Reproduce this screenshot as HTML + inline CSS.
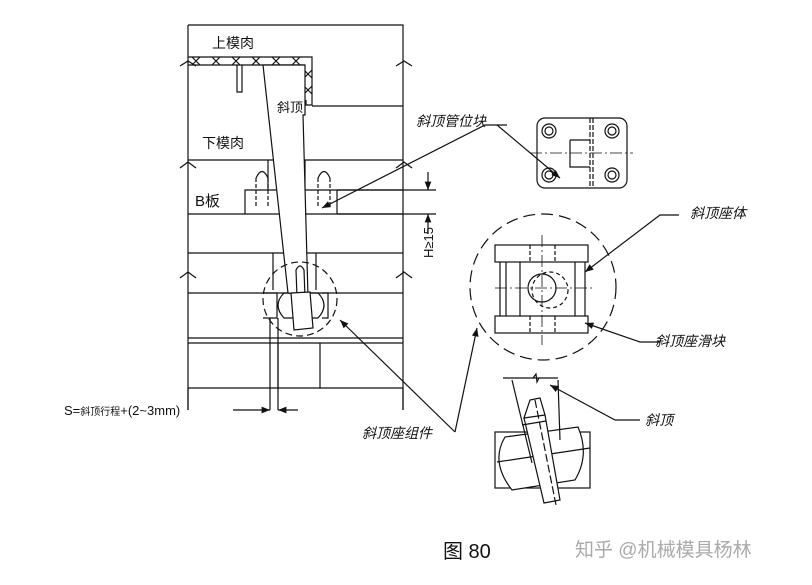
<!DOCTYPE html>
<html><head><meta charset="utf-8"><style>
body{margin:0;background:#fff;width:812px;height:580px;overflow:hidden}
text{font-family:"Liberation Sans","Noto Sans CJK SC",sans-serif;fill:#111}
</style></head><body>
<svg width="812" height="580" viewBox="0 0 812 580" xmlns="http://www.w3.org/2000/svg">
<defs><marker id="a" viewBox="0 0 10 10" refX="10" refY="5" markerWidth="9" markerHeight="7" orient="auto-start-reverse"><path d="M0,1 L10,5 L0,9z" fill="#111"/></marker></defs>
<g stroke="#111" stroke-width="1.2" fill="none">
<path d="M188,25 H403 V410 M188,25 V410"/>
<path d="M180,66 l8,-5 l8,5 M396,66 l8,-5 l8,5" />
<path d="M180,168 l8,-6 l8,6 M396,168 l8,-6 l8,6" />
<path d="M180,278 l8,-6 l8,6 M396,278 l8,-6 l8,6" />
<path d="M188,57 H312 V105 H306 V100 M188,65 H305"/>
<path d="M192,57 l8,8 M200,57 l-8,8 M212,57 l8,8 M220,57 l-8,8 M232,57 l8,8 M240,57 l-8,8 M252,57 l8,8 M260,57 l-8,8 M272,57 l8,8 M280,57 l-8,8 M292,57 l8,8 M300,57 l-8,8 M304,70 l8,8 M312,70 l-8,8 M304,86 l8,8 M312,86 l-8,8"/>
<path d="M237,65 V92 H242 V65"/>
<path d="M312,106 H403"/>
<path d="M188,160 H403"/>
<path d="M245,214 V190 H337 V214 M188,214 H403 M337,190 H403 M268,160 V190 M305,160 V190"/>
<path d="M256,178 V207 M268,178 V207 M318,178 V207 M330,178 V207" stroke-dasharray="4,2"/>
<path d="M256,178 Q262,165 268,178 M318,178 Q324,165 330,178"/>
<path d="M188,253 H403 M273,253 V290 M316,253 V290"/>
<path d="M188,293 H403 M188,338 H403 M188,343 H403 M188,388 H403 M278,343 V388 M320,343 V388"/>
<!-- detail in circle -->
<path d="M263,293 H277 V318 H263 M322,293 H328 V318 H322"/>
<path d="M284,293 Q272,305 284,318 H318 Q330,305 318,293Z"/>
<!-- lifter pin -->
<path d="M263,65 L305,65 L305,115 L303,115 L308,297 L288,293 Z" fill="#fff"/>
<path d="M297,297 L296,270 Q300,262 304,270 L305,297"/>
<path d="M291,293 L294,330 L313,328 L310,292Z" fill="#fff"/>
<circle cx="300" cy="299" r="37" stroke-dasharray="7,4"/>
<path d="M270,318 V410 M278,318 V410 M188,388 V410 M403,388 V410"/>
<path d="M233,410 H270" marker-end="url(#a)"/><path d="M298,410 H278" marker-end="url(#a)"/>
<path d="M337,190 H436 M337,214 H436"/>
<path d="M428,172 V190" marker-end="url(#a)"/><path d="M428,234 V214" marker-end="url(#a)"/>
<path d="M507,125 H485 L322,208" marker-end="url(#a)"/>
<path d="M497,125 L560,178" marker-end="url(#a)"/>
<path d="M679,215 H660 L585,272" marker-end="url(#a)"/>
<path d="M660,342 H640 L585,323" marker-end="url(#a)"/>
<path d="M640,420 H615 L550,385" marker-end="url(#a)"/>
<path d="M455,432 L477,328" marker-end="url(#a)"/>
<path d="M455,432 L340,320" marker-end="url(#a)"/>
<rect x="537" y="118" width="90" height="70" rx="8"/>
<path d="M590,118 V188 M593,118 V188" stroke-dasharray="5,2"/>
<path d="M570,140 H590 M570,140 V167 H590" />
<path d="M530,153 H633" stroke-width="0.8" stroke-dasharray="12,3,2,3"/>
<circle cx="549" cy="131" r="7"/><circle cx="549" cy="131" r="4"/>
<circle cx="612" cy="131" r="7"/><circle cx="612" cy="131" r="4"/>
<circle cx="549" cy="175" r="7"/><circle cx="549" cy="175" r="4"/>
<circle cx="612" cy="175" r="7"/><circle cx="612" cy="175" r="4"/>
<circle cx="543" cy="287" r="73" stroke-dasharray="12,6"/>
<rect x="495" y="245" width="93" height="17"/>
<rect x="495" y="316" width="93" height="17"/>
<path d="M500,262 V316 M506,262 V316 M520,262 V316 M575,262 V316 M585,262 V316"/>
<path d="M530,245 V262 M555,245 V262 M530,316 V333 M555,316 V333" stroke-dasharray="4,2"/>
<circle cx="542" cy="288" r="14"/><circle cx="550" cy="290" r="18" stroke-dasharray="4,3"/>
<path d="M542,235 V345 M495,288 H595" stroke-width="0.8" stroke-dasharray="12,3,2,3"/>
<path d="M503,378 H558 M533,378 l3,-4 l1,8 l2,-4"/>
<rect x="495" y="432" width="95" height="56"/>
<path d="M505,437 Q490,462 512,490 L575,480 Q590,455 578,427 Z" fill="#fff"/>
<path d="M497,462 L590,448"/>
<path d="M512,380 L532,463 M558,380 L560,440"/>
<path d="M524,418 L530,400 L540,398 L545,415 Z M524,418 L545,415 L560,500 L544,503 Z" fill="#fff"/>
<path d="M522,425 L546,421"/>
<path d="M535,400 L556,505" stroke-dasharray="8,3"/>
</g>
<g font-size="14">
<text x="212" y="48">上模肉</text>
<text x="277" y="112" font-size="13">斜顶</text>
<text x="202" y="148">下模肉</text>
<text x="195" y="206" font-size="15">B板</text>
<text x="416" y="126" font-style="italic">斜顶管位块</text>
<text x="690" y="218" font-style="italic">斜顶座体</text>
<text x="655" y="346" font-style="italic">斜顶座滑块</text>
<text x="645" y="425" font-style="italic">斜顶</text>
<text x="362" y="438" font-style="italic">斜顶座组件</text>
<text x="64" y="415" font-size="13">S=<tspan font-size="10">斜顶行程</tspan>+(2~3mm)</text>
<text transform="translate(433,258) rotate(-90)" font-size="13">H≥15</text>
<text x="443" y="558" font-size="20">图 80</text>
<text x="575" y="556" font-size="19" style="fill:#aaa">知乎 @机械模具杨林</text>
</g>
</svg>
</body></html>
